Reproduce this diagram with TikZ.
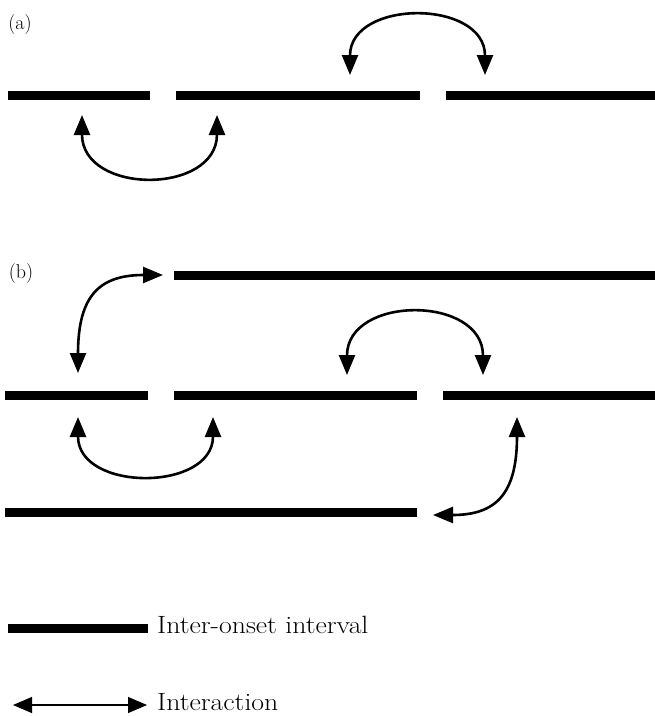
\documentclass[tikz,border=0pt]{standalone}
\usepackage{fontspec}
\usetikzlibrary{arrows.meta}
\begin{document}
\begin{tikzpicture}[x=1pt,y=-1pt,
  bar/.style={line width=9pt,line cap=butt},
  inter/.style={line width=2.6pt,{Triangle[length=20pt,width=16pt]}-{Triangle[length=20pt,width=16pt]}},
  lbl/.style={font=\fontsize{20}{24}\selectfont,inner sep=0pt},
  legtext/.style={font=\fontsize{25}{30}\selectfont,inner sep=0pt,anchor=base west}]
\useasboundingbox (0,0) rectangle (655,716);
% labels
\node[lbl] (la) at (20,25) {(a)};
\node[lbl] (lb) at (21,274) {(b)};
% (a) bars
\coordinate (a1s) at (8,95);   \coordinate (a1e) at (150,95);
\coordinate (a2s) at (176,95); \coordinate (a2e) at (420,95);
\coordinate (a3s) at (446,95); \coordinate (a3e) at (655,95);
\draw[bar] (a1s) -- (a1e);
\draw[bar] (a2s) -- (a2e);
\draw[bar] (a3s) -- (a3e);
% (a) arrows
\coordinate (aL1) at (82,115);  \coordinate (aL2) at (217,115);
\coordinate (aU1) at (350,75);  \coordinate (aU2) at (485,75);
\draw[inter] (aL1) .. controls (82,195) and (217,195) .. (aL2);
\draw[inter] (aU1) .. controls (350,-1) and (485,-1) .. (aU2);
% (b) bars
\coordinate (b0s) at (174,275); \coordinate (b0e) at (655,275);
\coordinate (b1s) at (5,395);   \coordinate (b1e) at (148,395);
\coordinate (b2s) at (174,395); \coordinate (b2e) at (417,395);
\coordinate (b3s) at (443,395); \coordinate (b3e) at (655,395);
\coordinate (b4s) at (5,512);   \coordinate (b4e) at (417,512);
\draw[bar] (b0s) -- (b0e);
\draw[bar] (b1s) -- (b1e);
\draw[bar] (b2s) -- (b2e);
\draw[bar] (b3s) -- (b3e);
\draw[bar] (b4s) -- (b4e);
% (b) arrows
\coordinate (bTL1) at (78,373); \coordinate (bTL2) at (163,275);
\draw[inter] (bTL1) .. controls (78,295) and (100,275) .. (bTL2);
\coordinate (bM1) at (347,375); \coordinate (bM2) at (483,375);
\draw[inter] (bM1) .. controls (347,295) and (483,295) .. (bM2);
\coordinate (bL1) at (78,417);  \coordinate (bL2) at (213,417);
\draw[inter] (bL1) .. controls (78,492) and (213,492) .. (bL2);
\coordinate (bR1) at (517,417); \coordinate (bR2) at (433,515);
\draw[inter] (bR1) .. controls (517,495) and (495,515) .. (bR2);
% legend
\coordinate (l1s) at (8,628); \coordinate (l1e) at (148,628);
\draw[bar] (l1s) -- (l1e);
\node[legtext] (t1) at (157,633) {\scalebox{1.11}[1]{Inter-onset interval}};
\coordinate (l2s) at (13,705); \coordinate (l2e) at (147,705);
\draw[line width=1.2pt,{Triangle[length=19pt,width=16pt]}-{Triangle[length=19pt,width=16pt]}] (l2s) -- (l2e);
\node[legtext] (t2) at (157,710) {\scalebox{1.11}[1]{Interaction}};
\end{tikzpicture}
\end{document}
